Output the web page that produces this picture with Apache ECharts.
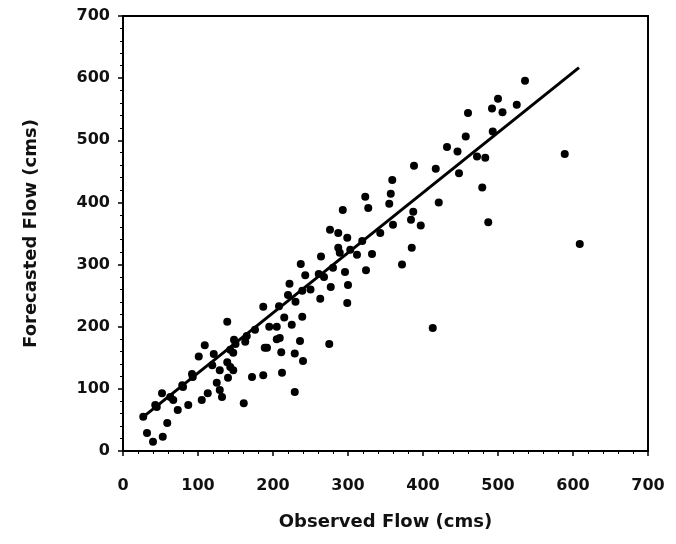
<!DOCTYPE html>
<html>
<head>
<meta charset="utf-8">
<script src="https://cdn.jsdelivr.net/npm/echarts@6/dist/echarts.min.js"></script>
<style>
html,body{margin:0;padding:0;background:#fff;}
#chart{width:676px;height:544px;}
</style>
</head>
<body>
<div id="chart"></div>
<script>
// Observed flow (cms)
var observed = [536,500,525,492,506,460,457,493,432,446,388,417,483,472,448,589,359,357,355,421,479,387,384,397,487,609,360,385,372,413,
323,327,293,276,287,299,319,343,287,303,332,264,289,312,237,243,261,280,296,324,222,239,220,277,300,299,263,187,208,239,
225,209,236,275,189,211,229,240,187,212,229,139,176,205,205,148,109,163,192,101,121,143,119,139,129,143,140,172,161,132,
92,79,52,67,43,27,32,40,53,59,73,87,105,113,129,45,63,80,93,147,150,165,195,215,230,250,268,125,147];
// Forecasted flow (cms)
var forecasted = [596,567,557,551,545,544,506,514,489,482,459,454,472,474,447,478,436,414,398,400,424,385,372,363,368,333,364,327,300,198,
409,391,388,356,351,343,338,351,327,324,317,313,319,316,301,283,285,295,288,291,269,258,251,264,267,238,245,232,233,216,
203,182,177,172,166,159,157,145,122,126,95,208,195,200,180,179,170,176,166,152,156,163,138,143,130,135,118,119,77,87,
124,106,93,82,74,55,29,15,23,45,66,74,82,93,98,71,87,103,119,158,172,185,200,215,240,260,280,110,130];
// Fitted trend line end points
var trendObserved = [27, 608];
var trendForecasted = [55, 617];
var tickLabels = [0,100,200,300,400,500,600,700];

var points = observed.map(function(v,i){return [v, forecasted[i]];});
var trend = trendObserved.map(function(v,i){return [v, trendForecasted[i]];});

var chart = echarts.init(document.getElementById('chart'));
var FONT = '"DejaVu Sans", Verdana, sans-serif';
var labelStyle = {color:'#111', fontFamily:FONT, fontWeight:'bold', fontSize:16};
function axis(name, gap, extra){
  return Object.assign({
    type:'value', min:tickLabels[0], max:tickLabels[tickLabels.length-1], interval:100,
    name:name, nameLocation:'middle', nameGap:gap,
    nameTextStyle:{color:'#111', fontFamily:FONT, fontWeight:'bold', fontSize:18},
    axisLine:{show:true, onZero:false, lineStyle:{color:'#000', width:2}},
    axisTick:{show:true, inside:false, length:5, lineStyle:{color:'#000', width:1.5}},
    minorTick:{show:true, splitNumber:5, length:3, lineStyle:{color:'#000', width:1}},
    splitLine:{show:false},
    axisLabel:Object.assign({}, labelStyle)
  }, extra || {});
}
chart.setOption({
  backgroundColor:'#fff',
  animation:false,
  grid:{left:123, right:28, top:16, bottom:93, show:true, borderColor:'#000', borderWidth:2, backgroundColor:'transparent'},
  xAxis:axis('Observed Flow (cms)', 62, {axisLabel:Object.assign({}, labelStyle, {margin:27})}),
  yAxis:axis('Forecasted Flow (cms)', 83, {axisLabel:Object.assign({}, labelStyle, {margin:13})}),
  series:[
    {type:'scatter', data:points, symbol:'circle', symbolSize:8, itemStyle:{color:'#000', opacity:1}},
    {type:'line', data:trend, symbol:'none', lineStyle:{color:'#000', width:3}, z:3}
  ]
});
</script>
</body>
</html>
